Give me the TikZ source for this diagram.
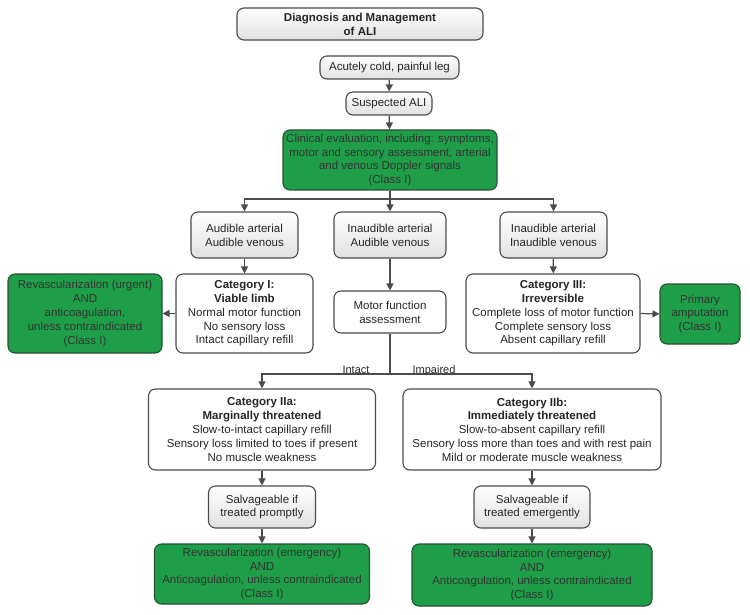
\documentclass[tikz,border=0pt]{standalone}
\usepackage{fontspec}
\setmainfont{Liberation Sans}
\usetikzlibrary{arrows.meta}
\definecolor{gfill}{RGB}{30,158,72}
\definecolor{gborder}{RGB}{40,80,50}
\definecolor{bcol}{RGB}{75,75,75}
\tikzset{
  box/.style={draw=bcol, line width=1.1pt, rounded corners=7pt, align=center, inner sep=0pt,
    font=\fontsize{11.5}{13.8}\selectfont, text=black!85},
  plainbox/.style={box, fill=white},
  gradbox/.style={box, top color=white, bottom color=black!12},
  greenbox/.style={box, fill=gfill, draw=gborder, text=black!80},
  sz/.style 2 args={minimum width=#1pt, minimum height=#2pt},
  arr/.style={draw=bcol, line width=1.2pt, -{Triangle[length=7pt,width=7pt]}},
  ln/.style={draw=bcol, line width=1.2pt},
  lbl/.style={font=\fontsize{11}{12}\selectfont, inner sep=0pt, anchor=base, text=black!85}
}
\begin{document}
\begin{tikzpicture}[x=1pt,y=-1pt]
\useasboundingbox (0,0) rectangle (750,615);
% top
\node[gradbox, sz={246}{32}] (title) at (360,24) {\textbf{Diagnosis and Management}\\\textbf{of ALI}};
\node[gradbox, sz={139}{23}] (acute) at (389.5,67.5) {Acutely cold, painful leg};
\node[gradbox, sz={86}{23}] (susp) at (389,103.5) {Suspected ALI};
\node[greenbox, sz={214}{60}] (clin) at (390,160) {Clinical evaluation, including: symptoms,\\motor and sensory assessment, arterial\\and venous Doppler signals\\(Class I)};
% doppler row
\node[gradbox, sz={107}{46}] (aud) at (244.5,235) {Audible arterial\\Audible venous};
\node[gradbox, sz={112}{46}] (inaud) at (390,235) {Inaudible arterial\\Audible venous};
\node[gradbox, sz={107}{46}] (inin) at (553.5,235) {Inaudible arterial\\Inaudible venous};
% row 2
\node[plainbox, sz={137}{79}] (cat1) at (244.5,313.5) {\textbf{Category I:}\\\textbf{Viable limb}\\Normal motor function\\No sensory loss\\Intact capillary refill};
\node[greenbox, sz={154}{79}] (rev1) at (85,313.5) {Revascularization (urgent)\\AND\\anticoagulation,\\unless contraindicated\\(Class I)};
\node[plainbox, sz={112}{42}] (motor) at (390,312) {Motor function\\assessment};
\node[plainbox, sz={174}{79}] (cat3) at (553,313.5) {\textbf{Category III:}\\\textbf{Irreversible}\\Complete loss of motor function\\Complete sensory loss\\Absent capillary refill};
\node[greenbox, sz={80}{60}] (amp) at (700,314) {Primary\\amputation\\(Class I)};
% row 3
\node[plainbox, sz={227}{81}] (cat2a) at (262,429.5) {\textbf{Category IIa:}\\\textbf{Marginally threatened}\\Slow-to-intact capillary refill\\Sensory loss limited to toes if present\\No muscle weakness};
\node[plainbox, sz={258}{81}] (cat2b) at (532,429.5) {\textbf{Category IIb:}\\\textbf{Immediately threatened}\\Slow-to-absent capillary refill\\Sensory loss more than toes and with rest pain\\Mild or moderate muscle weakness};
\node[gradbox, sz={107}{42}] (salv1) at (262,507) {Salvageable if\\treated promptly};
\node[gradbox, sz={116}{42}] (salv2) at (532,507) {Salvageable if\\treated emergently};
\node[greenbox, sz={215}{60}] (rev2) at (262,574) {Revascularization (emergency)\\AND\\Anticoagulation, unless contraindicated\\(Class I)};
\node[greenbox, sz={240}{62}] (rev3) at (532,575) {Revascularization (emergency)\\AND\\Anticoagulation, unless contraindicated\\(Class I)};
% connectors
\coordinate (hb) at (390,199);
\coordinate (split) at (390,374);
\draw[arr] (acute) -- (susp);
\draw[arr] (susp) -- (clin);
\draw[arr] (clin.south) -- (inaud.north);
\draw[arr] (hb) -| (aud.north);
\draw[arr] (hb) -| (inin.north);
\draw[arr] (aud) -- (cat1);
\draw[arr] (cat1.west) -- (rev1.east);
\draw[arr] (inaud) -- (motor);
\draw[arr] (inin) -- (cat3);
\draw[arr] (cat3.east) -- (amp.west);
\draw[ln] (motor.south) -- (split);
\draw[arr] (split) -| (cat2a.north);
\draw[arr] (split) -| (cat2b.north);
\node[lbl] (intact) at (356,373) {Intact};
\node[lbl] (impaired) at (434,373) {Impaired};
\draw[arr] (cat2a) -- (salv1);
\draw[arr] (salv1) -- (rev2);
\draw[arr] (cat2b) -- (salv2);
\draw[arr] (salv2) -- (rev3);
\end{tikzpicture}
\end{document}
